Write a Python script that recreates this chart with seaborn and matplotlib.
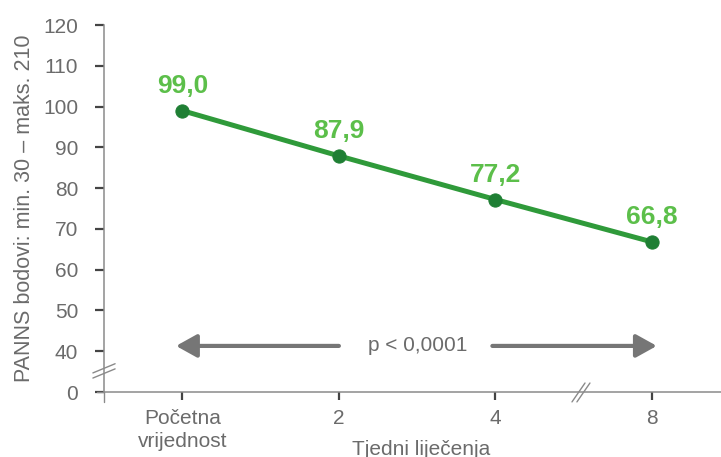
import matplotlib
matplotlib.use("Agg")
import matplotlib.pyplot as plt
import seaborn as sns
import pandas as pd

# Data
weeks = ["Početna\nvrijednost", "2", "4", "8"]
panns = [99.0, 87.9, 77.2, 66.8]
value_labels = ["99,0", "87,9", "77,2", "66,8"]
ytick_vals = [30, 40, 50, 60, 70, 80, 90, 100, 110, 120]
ytick_labels = ["0", "40", "50", "60", "70", "80", "90", "100", "110", "120"]
p_text = "p < 0,0001"
ylabel = "PANNS bodovi: min. 30 – maks. 210"
xlabel = "Tjedni liječenja"

sns.set_theme(style="white")
plt.rcParams["font.family"] = ["Liberation Sans", "DejaVu Sans"]

df = pd.DataFrame({"week": weeks, "panns": panns})

fig = plt.figure(figsize=(7.21, 4.57), dpi=100)
ax = fig.add_axes([104 / 721, 1 - 392 / 457, 617 / 721, 367 / 457])

line_col = "#2f9a3a"
marker_col = "#1f7f34"
label_col = "#5cbf4a"
gray = "#6b6b6b"

sns.lineplot(data=df, x="week", y="panns", ax=ax, color=line_col, lw=3.6,
             marker="o", markersize=9.5, markerfacecolor=marker_col,
             markeredgecolor=marker_col, sort=False)

for i, (v, t) in enumerate(zip(panns, value_labels)):
    ax.annotate(t, (i, v), xytext=(0, 18), textcoords="offset points",
                ha="center", va="center", fontsize=19, fontweight="bold",
                color=label_col)

ax.set_xlim(-0.5, 3.44)
ax.set_ylim(30, 120)
ax.set_yticks(ytick_vals)
ax.set_yticklabels(ytick_labels)
ax.set_xticks(range(len(weeks)))
ax.set_xticklabels(weeks)

ax.tick_params(axis="y", left=True, length=6.5, width=1.6, color="#444444",
               pad=12, labelsize=15, labelcolor=gray)
ax.tick_params(axis="x", bottom=True, length=6, width=1.6, color="#444444",
               pad=6, labelsize=15, labelcolor=gray)
for lbl in ax.get_xticklabels():
    lbl.set_linespacing(1.3)

for s in ["top", "right"]:
    ax.spines[s].set_visible(False)
for s in ["left", "bottom"]:
    ax.spines[s].set_color("#8a8a8a")
    ax.spines[s].set_linewidth(1.1)

ax.set_ylabel(ylabel, fontsize=15.5, color=gray, labelpad=6)
ax.set_xlabel(xlabel, fontsize=15, color=gray)
ax.xaxis.set_label_coords(0.514, -0.132)

# p-value arrows
arrow_y = 41.3
arrow_kw = dict(arrowstyle="-|>,head_length=0.9,head_width=0.5", lw=3,
                color="#767676", mutation_scale=14, shrinkA=0, shrinkB=0)
ax.annotate("", xy=(-0.04, arrow_y), xytext=(1.0, arrow_y), arrowprops=arrow_kw)
ax.annotate("", xy=(3.03, arrow_y), xytext=(1.98, arrow_y), arrowprops=arrow_kw)
ax.text(1.5, arrow_y, p_text, ha="center", va="center", fontsize=15, color=gray)

# spine overhangs and axis break marks
bk = dict(color="#8a8a8a", lw=1.0, clip_on=False, transform=ax.transAxes)
ax.plot([-0.012, 0], [0, 0], **bk)
ax.plot([0, 0], [-0.027, 0], **bk)
for d in (0.0, 0.014):
    ax.plot([-0.018, 0.018], [0.038 + d, 0.063 + d], **bk)
for d in (0.0, 0.008):
    ax.plot([0.7585 + d, 0.7796 + d], [-0.027, 0.0245], **bk)

fig.savefig("out.png", dpi=100)
